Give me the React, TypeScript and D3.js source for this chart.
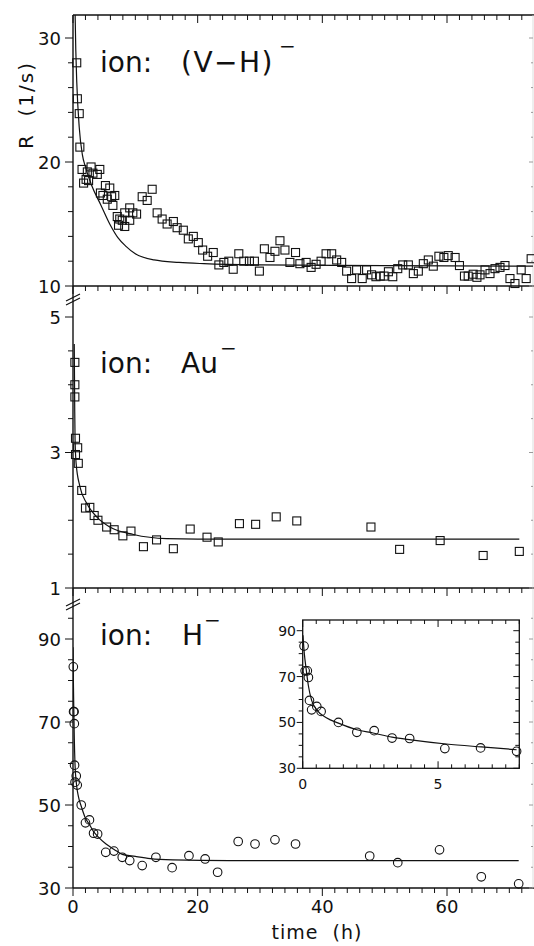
import React from 'react';
import * as d3 from 'd3';

// ---------- DATA ----------
// (V-H)- ion : time (h), rate R (1/s)
const vhTime = [0.6, 0.7, 1.0, 1.1, 1.45, 1.7, 2.1, 2.3, 2.5, 2.9, 3.2, 3.9, 4.3, 4.4, 4.8, 5.2, 5.5, 5.9, 6.2, 6.4, 6.7, 7.1, 7.3, 7.5, 7.9, 8.3, 8.3, 9.1, 9.1, 9.6, 10.2, 11.1, 11.9, 12.7, 13.5, 14.3, 15.1, 16.1, 16.7, 17.7, 18.5, 19.3, 20.1, 20.8, 21.6, 22.5, 23.4, 24.2, 25.0, 25.7, 26.6, 27.4, 28.3, 29.1, 29.9, 30.7, 31.6, 32.4, 33.2, 34.0, 34.8, 35.7, 36.4, 37.4, 38.2, 39.0, 39.8, 40.6, 41.5, 42.3, 43.1, 43.9, 44.7, 45.5, 46.4, 47.1, 47.9, 48.6, 49.3, 49.9, 50.6, 51.3, 52.1, 52.9, 53.8, 54.6, 55.4, 56.2, 57.0, 57.8, 58.7, 59.5, 60.2, 61.3, 62.0, 62.8, 63.4, 64.2, 64.8, 65.3, 66.1, 66.9, 67.7, 68.5, 69.3, 70.1, 70.9, 71.9, 72.7, 73.5];
const vhRate = [28.0, 25.1, 23.9, 21.2, 19.4, 18.3, 18.6, 19.2, 18.5, 19.6, 19.1, 19.0, 19.4, 17.5, 17.3, 18.1, 17.0, 17.9, 17.2, 16.5, 17.3, 15.6, 14.9, 15.4, 15.3, 15.9, 14.8, 16.3, 15.3, 15.9, 15.8, 17.2, 16.9, 17.8, 15.9, 15.4, 15.0, 15.2, 14.7, 14.5, 13.8, 14.0, 13.5, 12.9, 12.4, 12.7, 11.7, 11.9, 12.0, 11.35, 12.6, 12.0, 12.0, 12.0, 11.2, 13.0, 12.3, 12.8, 13.65, 12.9, 11.9, 12.7, 11.8, 11.9, 11.5, 11.75, 12.0, 12.6, 12.6, 12.1, 11.9, 11.2, 10.6, 11.3, 10.6, 11.3, 10.9, 10.75, 10.8, 10.8, 11.15, 10.75, 11.4, 11.7, 11.7, 11.0, 11.2, 11.8, 12.1, 11.6, 12.4, 12.3, 12.45, 12.3, 11.65, 10.8, 10.8, 10.95, 10.7, 10.9, 11.3, 11.0, 11.4, 11.5, 11.65, 10.6, 10.2, 11.3, 10.6, 12.2];
const vhFitTime = [0.3, 0.45, 0.6, 1.0, 1.5, 2.0, 3.0, 4.5, 6.0, 7.2, 8.5, 10.0, 13.0, 17.0, 21.0, 30.0, 50.0, 74.0];
const vhFitRate = [33.0, 29.0, 26.5, 22.8, 20.6, 19.6, 18.1, 16.5, 14.9, 13.9, 13.2, 12.6, 12.1, 11.9, 11.8, 11.7, 11.65, 11.6];

// Au- ion
const auTime = [0.3, 0.3, 0.3, 0.4, 0.75, 0.4, 0.85, 1.4, 2.0, 2.7, 3.4, 4.0, 5.4, 6.6, 8.0, 9.3, 11.3, 13.4, 16.1, 18.8, 21.5, 23.3, 26.7, 29.3, 32.6, 35.9, 47.8, 52.4, 58.9, 65.8, 71.6];
const auRate = [4.33, 4.0, 3.82, 3.21, 3.07, 2.97, 2.84, 2.44, 2.18, 2.19, 2.07, 2.0, 1.9, 1.86, 1.77, 1.84, 1.61, 1.71, 1.58, 1.87, 1.75, 1.68, 1.95, 1.94, 2.05, 1.99, 1.9, 1.57, 1.7, 1.48, 1.54];
const auFitTime = [0.2, 0.24, 0.28, 0.33, 0.5, 1.1, 2.2, 3.8, 5.9, 9.7, 15.0, 25.0, 71.6];
const auFitRate = [4.6, 4.1, 3.6, 3.2, 2.84, 2.5, 2.25, 2.05, 1.9, 1.79, 1.73, 1.72, 1.72];

// H- ion
const hTime = [0.05, 0.09, 0.17, 0.21, 0.25, 0.33, 0.52, 0.68, 1.32, 2.0, 2.64, 3.3, 3.95, 5.25, 6.57, 7.9, 9.1, 11.1, 13.3, 15.9, 18.6, 21.2, 23.2, 26.5, 29.2, 32.4, 35.7, 47.6, 52.1, 58.8, 65.5, 71.5];
const hRate = [83.3, 72.5, 72.5, 69.6, 59.6, 55.5, 57.0, 54.8, 50.0, 45.7, 46.4, 43.2, 43.0, 38.6, 38.9, 37.4, 36.6, 35.4, 37.4, 34.9, 37.8, 37.0, 33.8, 41.2, 40.6, 41.6, 40.6, 37.7, 36.1, 39.2, 32.7, 31.0];
const hFitTime = [0.01, 0.06, 0.12, 0.21, 0.33, 0.52, 0.89, 1.32, 2.0, 2.6, 3.3, 4.0, 5.3, 6.6, 7.9, 10.0, 12.4, 16.0, 25.0, 71.5];
const hFitRate = [88.0, 80.0, 74.0, 66.0, 59.6, 55.5, 51.9, 49.7, 46.8, 45.4, 43.6, 42.4, 40.6, 39.3, 38.1, 37.6, 37.1, 36.8, 36.6, 36.6];

// Tick labels
const xTickLabels = [0, 20, 40, 60];
const topYLabels = [10, 20, 30];
const midYLabels = [1, 3, 5];
const botYLabels = [30, 50, 70, 90];
const insetXLabels = [0, 5];
const insetYLabels = [30, 50, 70, 90];

// ---------- LAYOUT ----------
const X0 = 73;
const X1 = 533;
const x = d3.scaleLinear().domain([0, 60]).range([73, 447]);
const yTop = d3.scaleLinear().domain([10, 30]).range([286, 38]);
const yMid = d3.scaleLinear().domain([1, 5]).range([588, 317]);
const yBot = d3.scaleLinear().domain([30, 90]).range([888, 639]);
const xIn = d3.scaleLinear().domain([0, 8]).range([302.7, 519.3]);
const yIn = d3.scaleLinear().domain([30, 90]).range([768.3, 630.7]);

const FONT = 'DejaVu Sans';
const xMinor = d3.range(0, 73, 2);

function zip(a: number[], b: number[]) {
  return a.map((v, i) => [v, b[i]] as [number, number]);
}

function Squares({ t, r, ys }: { t: number[]; r: number[]; ys: d3.ScaleLinear<number, number> }) {
  const s = 8;
  return (
    <g fill="none" stroke="#111" strokeWidth={1.1}>
      {t.map((tt, i) => (
        <rect key={i} x={x(tt) - s / 2} y={ys(r[i]) - s / 2} width={s} height={s} />
      ))}
    </g>
  );
}

function FitLine({ t, r, xs, ys, clip }: any) {
  const line = d3
    .line<[number, number]>()
    .x((d) => xs(d[0]))
    .y((d) => ys(d[1]))
    .curve(d3.curveMonotoneX);
  return <path d={line(zip(t, r)) || ''} fill="none" stroke="#111" strokeWidth={1.2} clipPath={clip} />;
}

function XTicksDown({ y, topFrame }: { y: number; topFrame?: boolean }) {
  return (
    <g stroke="#111" strokeWidth={1}>
      {xMinor.map((v) => {
        const major = v % 20 === 0;
        const len = major ? 8 : 5;
        return <line key={v} x1={x(v)} x2={x(v)} y1={y} y2={y + len} />;
      })}
    </g>
  );
}

function YTicks({ ys, values, majors, right }: { ys: any; values: number[]; majors: number[]; right?: boolean }) {
  return (
    <g stroke={right ? '#9a9a9a' : '#111'} strokeWidth={1}>
      {values.map((v) => {
        const major = majors.includes(v);
        const len = major ? 8 : 5;
        const yy = ys(v);
        return right ? (
          <line key={v} x1={X1} x2={X1 - (major ? 4 : 2)} y1={yy} y2={yy} />
        ) : (
          <line key={v} x1={X0} x2={X0 - len} y1={yy} y2={yy} />
        );
      })}
    </g>
  );
}

function BreakMark({ y }: { y: number }) {
  return (
    <g stroke="#111" strokeWidth={1.2}>
      <line x1={X0 - 7} y1={y + 5} x2={X0 + 7} y2={y - 2} />
      <line x1={X0 - 7} y1={y + 9} x2={X0 + 7} y2={y + 2} />
    </g>
  );
}

export default function App() {
  const topMinor = d3.range(10, 31, 2);
  const midMinor = d3.range(1, 5.01, 0.5);
  const botMinor = d3.range(30, 96, 5);
  const inXMinor = d3.range(0, 8.01, 0.5);
  const inYMinor = d3.range(30, 91, 5);

  const hInT = hTime.filter((t) => t <= 8);
  const hInR = hRate.slice(0, hInT.length);
  const hFitInT = hFitTime.filter((t) => t <= 8);
  const hFitInR = hFitRate.slice(0, hFitInT.length);

  return (
    <svg
      width={534}
      height={946}
      style={{ position: 'absolute', left: 0, top: 0, display: 'block' }}
      fontFamily={FONT}
    >
      <defs>
        <clipPath id="cTop">
          <rect x={X0} y={15} width={X1 - X0} height={286 - 15} />
        </clipPath>
        <clipPath id="cMid">
          <rect x={X0} y={286} width={X1 - X0} height={588 - 286} />
        </clipPath>
        <clipPath id="cBot">
          <rect x={X0} y={588} width={X1 - X0} height={888 - 588} />
        </clipPath>
        <clipPath id="cIn">
          <rect x={302.7} y={620} width={519.3 - 302.7} height={768.3 - 620} />
        </clipPath>
      </defs>
      <rect x={0} y={0} width={534} height={946} fill="#fff" />

      {/* frame lines */}
      <g stroke="#111" strokeWidth={1.4}>
        <line x1={X0} x2={X0} y1={15} y2={888} />
        <line x1={X0} x2={X1 + 1} y1={15} y2={15} />
        <line x1={X0} x2={X1 + 1} y1={286} y2={286} />
        <line x1={X0} x2={X1 + 1} y1={588} y2={588} />
        <line x1={X0} x2={X1 + 1} y1={888} y2={888} />
      </g>
      <line x1={X1} x2={X1} y1={15} y2={888} stroke="#d4d4d4" strokeWidth={0.8} />

      {/* x ticks */}
      <XTicksDown y={15} />
      <XTicksDown y={286} />
      <XTicksDown y={588} />
      <XTicksDown y={888} />

      {/* y ticks */}
      <YTicks ys={yTop} values={topMinor} majors={topYLabels} />
      <YTicks ys={yMid} values={midMinor} majors={midYLabels} />
      <YTicks ys={yBot} values={botMinor} majors={botYLabels} />
      <YTicks ys={yTop} values={topMinor} majors={topYLabels} right />
      <YTicks ys={yMid} values={midMinor} majors={midYLabels} right />
      <YTicks ys={yBot} values={botMinor} majors={botYLabels} right />

      <BreakMark y={296} />
      <BreakMark y={601} />

      {/* y tick labels */}
      <g fontSize={18} textAnchor="end" fill="#111">
        {topYLabels.map((v) => (
          <text key={'t' + v} x={61} y={yTop(v) + 6.5}>{v}</text>
        ))}
        {midYLabels.map((v) => (
          <text key={'m' + v} x={61} y={yMid(v) + 6.5}>{v}</text>
        ))}
        {botYLabels.map((v) => (
          <text key={'b' + v} x={61} y={yBot(v) + 6.5}>{v}</text>
        ))}
      </g>
      {/* x tick labels */}
      <g fontSize={18} textAnchor="middle" fill="#111">
        {xTickLabels.map((v) => (
          <text key={v} x={x(v)} y={913}>{v}</text>
        ))}
      </g>
      <text x={317} y={939} fontSize={19} letterSpacing={1} textAnchor="middle" fill="#111" xmlSpace="preserve">
        time  (h)
      </text>
      <text
        transform="translate(33,105) rotate(-90)"
        fontSize={20}
        letterSpacing={2}
        textAnchor="middle"
        fill="#111"
        xmlSpace="preserve"
      >
        R  (1/s)
      </text>

      {/* ion labels */}
      <g fontSize={28} fill="#111">
        <text x={100} y={72}>ion:</text>
        <text x={181} y={72} letterSpacing={1.5}>(V−H)</text>
        <text x={279} y={53} fontSize={20}>−</text>

        <text x={100} y={373}>ion:</text>
        <text x={181} y={373}>Au</text>
        <text x={220} y={355} fontSize={20}>−</text>

        <text x={100} y={645}>ion:</text>
        <text x={182} y={645}>H</text>
        <text x={204} y={627} fontSize={20}>−</text>
      </g>

      {/* data */}
      <FitLine t={vhFitTime} r={vhFitRate} xs={x} ys={yTop} clip="url(#cTop)" />
      <Squares t={vhTime} r={vhRate} ys={yTop} />

      <FitLine t={auFitTime} r={auFitRate} xs={x} ys={yMid} clip="url(#cMid)" />
      <Squares t={auTime} r={auRate} ys={yMid} />

      <FitLine t={hFitTime} r={hFitRate} xs={x} ys={yBot} clip="url(#cBot)" />
      <g fill="none" stroke="#111" strokeWidth={1.1}>
        {hTime.map((t, i) => (
          <circle key={i} cx={x(t)} cy={yBot(hRate[i])} r={4.3} />
        ))}
      </g>

      {/* inset */}
      <rect x={302.7} y={620} width={519.3 - 302.7} height={768.3 - 620} fill="#fff" stroke="#111" strokeWidth={1.3} />
      <g stroke="#111" strokeWidth={1}>
        {inXMinor.map((v) => {
          const len = v % 5 === 0 ? 7 : 4;
          return (
            <g key={v}>
              <line x1={xIn(v)} x2={xIn(v)} y1={768.3} y2={768.3 - len} />
              <line x1={xIn(v)} x2={xIn(v)} y1={620} y2={620 + len} />
            </g>
          );
        })}
        {inYMinor.map((v) => {
          const major = (v - 30) % 20 === 0;
          return (
            <g key={v}>
              <line x1={302.7} x2={302.7 - (major ? 6 : 4)} y1={yIn(v)} y2={yIn(v)} />
              <line x1={519.3} x2={519.3 - (major ? 6 : 4)} y1={yIn(v)} y2={yIn(v)} />
            </g>
          );
        })}
      </g>
      <g fontSize={14} fill="#111">
        {insetYLabels.map((v) => (
          <text key={v} x={296} y={yIn(v) + 5} textAnchor="end">{v}</text>
        ))}
        {insetXLabels.map((v) => (
          <text key={v} x={xIn(v)} y={789} textAnchor="middle">{v}</text>
        ))}
      </g>
      <FitLine t={hFitInT} r={hFitInR} xs={xIn} ys={yIn} clip="url(#cIn)" />
      <g fill="none" stroke="#111" strokeWidth={1.1}>
        {hInT.map((t, i) => (
          <circle key={i} cx={xIn(t)} cy={yIn(hInR[i])} r={4.3} />
        ))}
      </g>
    </svg>
  );
}
